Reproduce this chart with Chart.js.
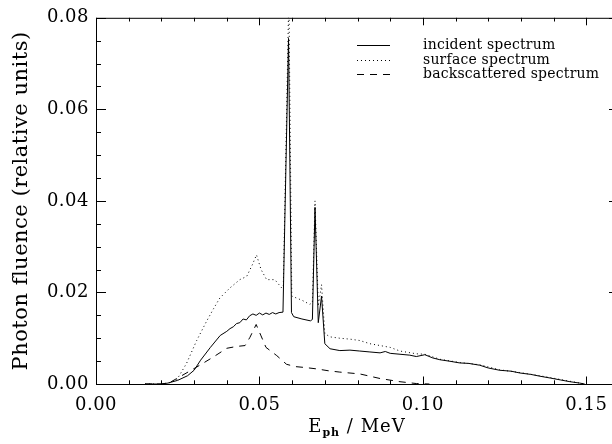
<!DOCTYPE html>
<html>
<head>
<meta charset="utf-8">
<script src="https://cdn.jsdelivr.net/npm/chart.js@4.4.1/dist/chart.umd.min.js"></script>
<style>
html, body { margin: 0; padding: 0; background: #fff; overflow: hidden; }
#wrap { width: 612px; height: 444px; overflow: hidden; }
</style>
</head>
<body>
<div id="wrap"><canvas id="chart" width="620" height="444"></canvas></div>
<script>
// photon energy (MeV) and fluence for each spectrum
const incidentE = [0.015, 0.020, 0.022, 0.025, 0.028, 0.030, 0.032, 0.035, 0.038, 0.040, 0.041, 0.042, 0.043, 0.044, 0.045, 0.046, 0.047, 0.048, 0.049, 0.050, 0.051, 0.052, 0.053, 0.054, 0.055, 0.056, 0.0572, 0.0589, 0.0598, 0.0605, 0.063, 0.0656, 0.0662, 0.0670, 0.0680, 0.0690, 0.0700, 0.0716, 0.0746, 0.0777, 0.0807, 0.0838, 0.0869, 0.0885, 0.0900, 0.0930, 0.0960, 0.0980, 0.1006, 0.1030, 0.1052, 0.1080, 0.1113, 0.1140, 0.1174, 0.1200, 0.1235, 0.1270, 0.1297, 0.1330, 0.1358, 0.1390, 0.1420, 0.1450, 0.1480, 0.1495];
const incidentY = [0, 0, 0.0002, 0.0008, 0.0018, 0.0030, 0.0052, 0.0080, 0.0106, 0.0115, 0.0121, 0.0125, 0.0132, 0.0134, 0.0142, 0.0140, 0.0149, 0.0153, 0.0150, 0.0155, 0.0151, 0.0155, 0.0152, 0.0156, 0.0153, 0.0156, 0.0157, 0.0755, 0.0156, 0.0147, 0.0142, 0.0138, 0.0141, 0.0386, 0.0134, 0.0192, 0.0088, 0.0077, 0.0073, 0.0074, 0.0072, 0.0070, 0.0068, 0.0071, 0.0067, 0.0065, 0.0063, 0.0060, 0.0064, 0.0057, 0.0053, 0.0050, 0.0046, 0.0045, 0.0041, 0.0035, 0.0030, 0.0028, 0.0024, 0.0021, 0.0017, 0.0013, 0.0009, 0.0005, 0.0002, 0];

const surfaceE = [0.015, 0.020, 0.0225, 0.0247, 0.0277, 0.0308, 0.0339, 0.0360, 0.0379, 0.041, 0.044, 0.0461, 0.0478, 0.0491, 0.0505, 0.0522, 0.0547, 0.0568, 0.0573, 0.0590, 0.0599, 0.063, 0.0654, 0.0662, 0.0670, 0.0680, 0.0690, 0.0700, 0.0716, 0.0746, 0.0777, 0.0807, 0.0838, 0.0869, 0.0900, 0.0930, 0.0980, 0.1006, 0.1052, 0.1113, 0.1174, 0.1235, 0.1297, 0.1358, 0.1420, 0.1480, 0.1495];
const surfaceY = [0, 0, 0.0003, 0.0009, 0.0045, 0.0095, 0.0138, 0.0165, 0.0188, 0.0210, 0.0228, 0.0235, 0.0260, 0.0282, 0.0250, 0.0228, 0.0228, 0.0210, 0.0212, 0.0850, 0.0192, 0.0183, 0.0174, 0.0178, 0.0400, 0.0170, 0.0217, 0.0110, 0.0103, 0.0100, 0.0098, 0.0095, 0.0088, 0.0084, 0.0080, 0.0072, 0.0066, 0.0065, 0.0054, 0.0047, 0.0042, 0.0031, 0.0025, 0.0018, 0.0010, 0.0002, 0];

const backE = [0.015, 0.020, 0.0225, 0.0257, 0.0308, 0.0359, 0.0400, 0.0430, 0.0456, 0.0471, 0.0490, 0.0505, 0.0520, 0.0553, 0.0583, 0.0610, 0.0640, 0.0675, 0.0710, 0.0746, 0.0807, 0.0869, 0.0930, 0.0980, 0.1020];
const backY = [0, 0, 0.0003, 0.0016, 0.0037, 0.0059, 0.0078, 0.0082, 0.0084, 0.0102, 0.0130, 0.0105, 0.0080, 0.0062, 0.0043, 0.0038, 0.0036, 0.0033, 0.0029, 0.0026, 0.0022, 0.0012, 0.0005, 0.0001, 0];

const xTicks = [0, 0.05, 0.10, 0.15];
const yTicks = [0, 0.02, 0.04, 0.06, 0.08];
const seriesNames = ["incident spectrum", "surface spectrum", "backscattered spectrum"];

const FONT = "'DejaVu Serif', serif";

const toPoints = (xs, ys) => xs.map((e, i) => ({ x: e, y: ys[i] }));

// the reference lettering is wide, so open it up a little
const spacing = {
    id: "spacing",
    beforeDraw(chart) {
        chart.ctx.letterSpacing = "0.5px";
    }
};

// box round the plot with IDL style inward ticks on all four sides
const frame = {
    id: "frame",
    afterDraw(chart) {
        const { ctx, chartArea: a, scales: { x, y } } = chart;
        ctx.save();
        ctx.strokeStyle = "#000";
        ctx.lineWidth = 1;
        ctx.strokeRect(a.left + 0.5, a.top + 0.5, a.right - a.left, a.bottom - a.top);
        ctx.beginPath();
        for (let i = 0; i <= 16; i++) {
            const px = Math.round(x.getPixelForValue(i * 0.01)) + 0.5;
            const len = i % 5 === 0 ? 7.5 : 3.7;
            ctx.moveTo(px, a.bottom);
            ctx.lineTo(px, a.bottom - len);
            ctx.moveTo(px, a.top);
            ctx.lineTo(px, a.top + len);
        }
        for (let i = 0; i <= 16; i++) {
            const py = Math.round(y.getPixelForValue(i * 0.005)) + 0.5;
            const len = i % 4 === 0 ? 10 : 5;
            ctx.moveTo(a.left, py);
            ctx.lineTo(a.left + len, py);
            ctx.moveTo(a.right, py);
            ctx.lineTo(a.right - len, py);
        }
        ctx.stroke();

        // x axis title with subscript
        ctx.fillStyle = "#000";
        ctx.textBaseline = "alphabetic";
        ctx.letterSpacing = "1px";
        const big = "18px " + FONT, small = "bold 11px " + FONT;
        ctx.font = big;
        const wE = ctx.measureText("E").width;
        const wRest = ctx.measureText(" / MeV").width;
        ctx.font = small;
        const wSub = ctx.measureText("ph").width;
        let tx = 357 - (wE + wSub + wRest) / 2;
        const base = 432;
        ctx.font = big;
        ctx.fillText("E", tx, base);
        tx += wE;
        ctx.font = small;
        ctx.fillText("ph", tx, base + 4);
        tx += wSub;
        ctx.font = big;
        ctx.fillText(" / MeV", tx, base);

        // legend
        ctx.font = "14px " + FONT;
        ctx.letterSpacing = "0.2px";
        ctx.textBaseline = "middle";
        const rows = [45, 60, 74];
        chart.data.datasets.forEach((ds, i) => {
            ctx.beginPath();
            ctx.setLineDash(ds.borderDash || []);
            ctx.lineWidth = ds.borderWidth;
            ctx.moveTo(357, rows[i] + 0.5);
            ctx.lineTo(390, rows[i] + 0.5);
            ctx.stroke();
            ctx.setLineDash([]);
            ctx.fillText(ds.label, 423, rows[i]);
        });
        ctx.restore();
    }
};

new Chart(document.getElementById("chart"), {
    type: "line",
    data: {
        datasets: [
            { label: seriesNames[0], data: toPoints(incidentE, incidentY), borderColor: "#000", borderWidth: 1 },
            { label: seriesNames[1], data: toPoints(surfaceE, surfaceY), borderColor: "#000", borderWidth: 1, borderDash: [1, 3] },
            { label: seriesNames[2], data: toPoints(backE, backY), borderColor: "#000", borderWidth: 1, borderDash: [7, 6] }
        ]
    },
    options: {
        responsive: false,
        animation: false,
        devicePixelRatio: 1,
        layout: { padding: { top: 12, right: 1, left: 0, bottom: 0 } },
        elements: { point: { radius: 0 }, line: { tension: 0 } },
        plugins: { legend: { display: false }, tooltip: { enabled: false } },
        scales: {
            x: {
                type: "linear",
                min: 0,
                max: 0.16,
                afterBuildTicks: (s) => { s.ticks = xTicks.map(v => ({ value: v })); },
                afterFit: (s) => { s.height = 60; },
                grid: { display: false, drawTicks: false },
                border: { display: false },
                ticks: { color: "#000", padding: 11, maxRotation: 0, font: { family: FONT, size: 18 }, callback: (v) => v.toFixed(2) }
            },
            y: {
                min: 0,
                max: 0.08,
                afterBuildTicks: (s) => { s.ticks = yTicks.map(v => ({ value: v })); },
                afterFit: (s) => { s.width = 96; },
                grid: { display: false, drawTicks: false },
                border: { display: false },
                ticks: { color: "#000", padding: 7, font: { family: FONT, size: 18 }, callback: (v) => v.toFixed(2) },
                title: { display: true, text: "Photon fluence (relative units)", color: "#000", padding: { top: 9 }, font: { family: FONT, size: 21 } }
            }
        }
    },
    plugins: [spacing, frame]
});
</script>
</body>
</html>
